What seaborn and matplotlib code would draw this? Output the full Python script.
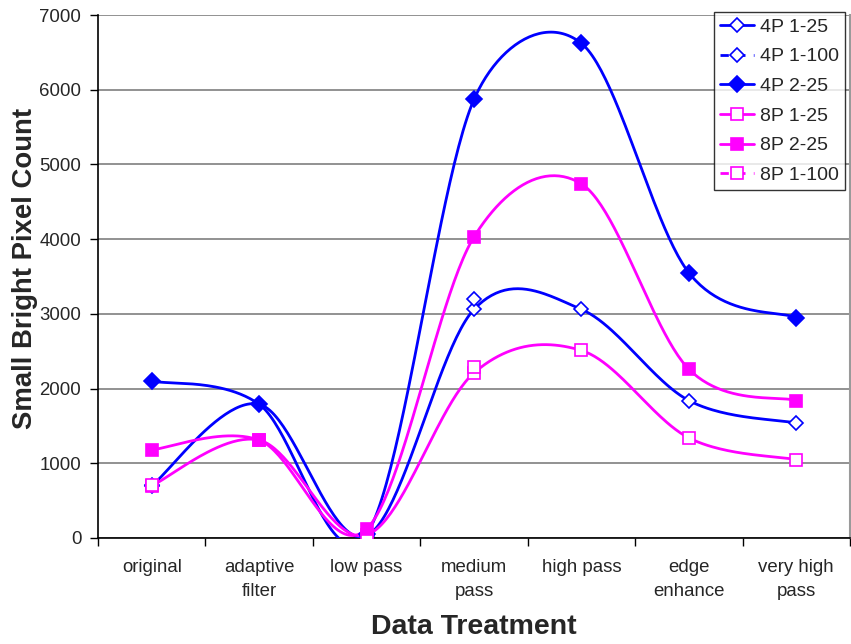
import numpy as np
import pandas as pd
import matplotlib
matplotlib.use("Agg")
import matplotlib.pyplot as plt
from matplotlib.lines import Line2D
import seaborn as sns

# Data
categories = ["original", "adaptive\nfilter", "low pass", "medium\npass",
              "high pass", "edge\nenhance", "very high\npass"]
p4_1_25 = [700, 1790, 30, 3060, 3060, 1840, 1540]
p4_1_100 = [710, np.nan, np.nan, 3200, np.nan, np.nan, np.nan]
p4_2_25 = [2100, 1790, 50, 5870, 6620, 3550, 2950]
p8_1_25 = [700, 1310, 40, 2210, 2510, 1340, 1050]
p8_2_25 = [1180, 1310, 120, 4030, 4740, 2260, 1840]
p8_1_100 = [710, np.nan, np.nan, 2290, np.nan, np.nan, np.nan]
y_ticks = [0, 1000, 2000, 3000, 4000, 5000, 6000, 7000]

BLUE = "#0000ff"
MAGENTA = "#ff00ff"

# drawing scale (pixels per category step / per data unit) used by the smoother
SX, SY = 107.4, 0.07486


def smooth(values, n=50):
    """Bezier smoothing through the points; control arms are 1/6 of the
    neighbour chord, capped at half the adjacent segment length."""
    y = np.asarray(values, dtype=float)
    x = np.arange(len(y), dtype=float)
    pts = np.column_stack([x * SX, y * SY])
    m = len(pts)
    fwd = np.zeros_like(pts)
    bwd = np.zeros_like(pts)
    for i in range(m):
        p0 = pts[max(i - 1, 0)]
        p2 = pts[min(i + 1, m - 1)]
        d = p2 - p0
        d02 = np.hypot(*d)
        if d02 == 0:
            continue
        d01 = np.hypot(*(pts[i] - p0))
        d12 = np.hypot(*(p2 - pts[i]))
        u = d / d02
        a_out = min(d02 / 6, d12 / 2) if i < m - 1 else 0
        a_in = min(d02 / 6, d01 / 2) if i > 0 else 0
        fwd[i] = pts[i] + u * a_out
        bwd[i] = pts[i] - u * a_in
    t = np.linspace(0, 1, n)[:, None]
    out = []
    for i in range(m - 1):
        p1, c1, c2, p2 = pts[i], fwd[i], bwd[i + 1], pts[i + 1]
        seg = ((1 - t) ** 3) * p1 + 3 * ((1 - t) ** 2) * t * c1 \
            + 3 * (1 - t) * t ** 2 * c2 + t ** 3 * p2
        out.append(seg if i == 0 else seg[1:])
    out = np.vstack(out)
    return out[:, 0] / SX, out[:, 1] / SY


sns.set_style("white")
plt.rcParams["font.family"] = ["Liberation Sans", "DejaVu Sans"]

fig = plt.figure(figsize=(8.51, 6.44), dpi=100)
ax = fig.add_axes([98 / 851, 1 - 538 / 644, 752 / 851, 523 / 644])

series = [
    ("4P 1-25", p4_1_25, BLUE, "D", "white", 7, "-", True),
    ("4P 1-100", p4_1_100, BLUE, "D", "white", 7, "--", False),
    ("4P 2-25", p4_2_25, BLUE, "D", BLUE, 8, "-", True),
    ("8P 1-25", p8_1_25, MAGENTA, "s", "white", 8, "-", True),
    ("8P 2-25", p8_2_25, MAGENTA, "s", MAGENTA, 9, "-", True),
    ("8P 1-100", p8_1_100, MAGENTA, "s", "white", 8, "--", False),
]

xcat = np.arange(len(categories))
handles = []
for name, vals, col, mk, face, ms, ls, curve in series:
    if curve:
        xs, ys = smooth(vals)
        sns.lineplot(x=xs, y=ys, ax=ax, color=col, linewidth=2,
                     sort=False, estimator=None, zorder=3)
    ax.plot(xcat, vals, linestyle="none", marker=mk, markersize=ms,
            markerfacecolor=face, markeredgecolor=col, markeredgewidth=1.2,
            zorder=4)
    handles.append(Line2D([], [], color=col, linestyle=ls, linewidth=2,
                          dashes=(3, 3) if ls == "--" else (None, None),
                          marker=mk, markersize=ms, markerfacecolor=face,
                          markeredgecolor=col, markeredgewidth=1.2, label=name))

ax.set_xlim(-0.5, len(categories) - 0.5)
ax.set_ylim(0, 7000)
ax.set_yticks(y_ticks)
ax.set_yticklabels([str(v) for v in y_ticks], fontsize=13.4)
ax.yaxis.grid(True, color="#7f7f7f", linewidth=1.2)
ax.set_axisbelow(True)

ax.set_xticks(xcat)
ax.set_xticklabels(categories, fontsize=13.4, linespacing=1.55)
ax.set_xticks(np.arange(-0.5, len(categories)), minor=True)
ax.tick_params(axis="x", which="major", length=0, pad=15)
ax.tick_params(axis="x", which="minor", length=6, width=1, color="black",
               direction="out", bottom=True)
ax.tick_params(axis="y", which="major", length=6, width=1, color="black",
               direction="out", left=True, pad=6)

for side in ("left", "bottom"):
    ax.spines[side].set_color("black")
    ax.spines[side].set_linewidth(1.2)
ax.spines["top"].set_visible(False)
ax.spines["right"].set_color("#9a9a9a")
ax.spines["right"].set_linewidth(1.5)

ax.set_xlabel("Data Treatment", fontsize=20.5, fontweight="bold")
ax.xaxis.set_label_coords(0.5, -0.145)
ax.set_ylabel("Small Bright Pixel Count", fontsize=19.8, fontweight="bold")
ax.yaxis.set_label_coords(-0.080, 0.516)

leg = ax.legend(handles=handles, loc="upper right", bbox_to_anchor=(0.994, 1.006),
                fontsize=14, frameon=True, fancybox=False, handlelength=1.75,
                handletextpad=0.3, labelspacing=0.62, borderpad=0.32,
                borderaxespad=0.0)
leg.get_frame().set_edgecolor("black")
leg.get_frame().set_linewidth(1.0)
leg.set_zorder(10)

fig.savefig("out.png", dpi=100)
